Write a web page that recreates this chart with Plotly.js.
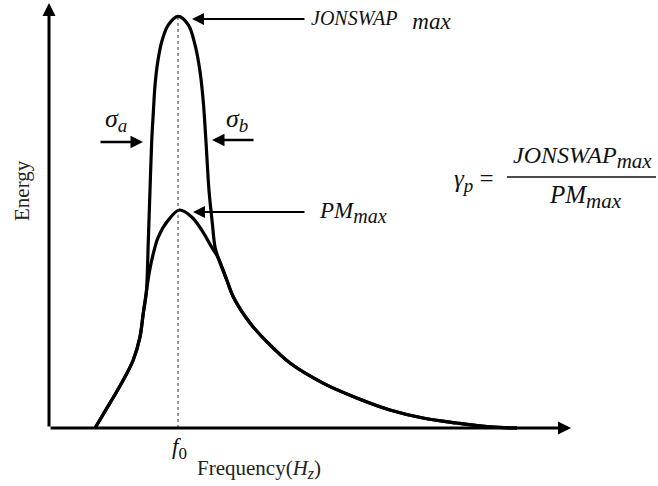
<!DOCTYPE html>
<html>
<head>
<meta charset="utf-8">
<script src="https://cdn.plot.ly/plotly-3.0.1.min.js"></script>
<style>
  html, body { margin: 0; padding: 0; background: #ffffff; }
  #chart { width: 658px; height: 486px; }
</style>
</head>
<body>
<div id="chart"></div>
<script>
// Normalised frequency (f / f0) and energy (E / PM peak)
const peakFrequency = 1.0;

const freqPM = [0.357, 0.473, 0.576, 0.653, 0.705, 0.731, 0.757, 0.778, 0.802, 0.847, 0.925, 1.012,
                1.106, 1.184, 1.261, 1.312, 1.378, 1.429, 1.558, 1.713, 1.868, 2.124, 2.385, 2.643,
                2.899, 3.160, 3.419, 3.628];
const energyPM = [0, 0.115, 0.220, 0.312, 0.417, 0.528, 0.633, 0.716, 0.784, 0.876, 0.954, 1.000,
                  0.968, 0.908, 0.830, 0.780, 0.679, 0.601, 0.482, 0.381, 0.298, 0.206, 0.138, 0.083,
                  0.046, 0.023, 0.005, 0];

const freqJONSWAP = [0.357, 0.473, 0.576, 0.653, 0.705, 0.731, 0.754, 0.770, 0.783, 0.796, 0.809, 0.822,
                     0.843, 0.874, 0.925, 1.002, 1.080, 1.132, 1.171, 1.196, 1.217, 1.240, 1.266, 1.287,
                     1.312, 1.378, 1.429, 1.558, 1.713, 1.868, 2.124, 2.385, 2.643, 2.899, 3.160, 3.419, 3.628];
const energyJONSWAP = [0, 0.115, 0.220, 0.312, 0.417, 0.528, 0.619, 0.862, 1.092, 1.313, 1.451, 1.573,
                       1.680, 1.772, 1.849, 1.888, 1.849, 1.757, 1.634, 1.497, 1.313, 1.092, 0.940, 0.830,
                       0.780, 0.679, 0.601, 0.482, 0.381, 0.298, 0.206, 0.138, 0.083, 0.046, 0.023, 0.005, 0];

// Axis extents (normalised units)
const xEnd = 4.047;
const yEnd = 1.95;

const W = 658, H = 486;
// pixel position -> paper fraction
const px = v => v / W;
const py = v => 1 - v / H;

const serif = 'Liberation Serif, Times New Roman, serif';
const ink = '#111111';

const curveLine = { color: '#000000', width: 3.2, shape: 'spline', smoothing: 1 };

const traces = [
  { x: freqPM, y: energyPM, mode: 'lines', line: curveLine, cliponaxis: false, hoverinfo: 'skip', name: 'PM' },
  { x: freqJONSWAP, y: energyJONSWAP, mode: 'lines', line: curveLine, cliponaxis: false, hoverinfo: 'skip', name: 'JONSWAP' }
];

const jPeak = Math.max(...energyJONSWAP);

// subscript with its own size
const sub = (t, size) => '<sub><span style="font-size:' + size + 'px">' + t + '</span></sub>';

function label(x, y, text, size, opts) {
  return Object.assign({
    xref: 'paper', yref: 'paper', x: px(x), y: py(y), text: text, showarrow: false,
    xanchor: 'center', yanchor: 'middle',
    font: { family: serif, size: size, color: ink }
  }, opts || {});
}

function pointer(x, y, ax, width, size) {
  return {
    xref: 'paper', yref: 'paper', x: px(x), y: py(y), ax: ax, ay: 0, text: '',
    showarrow: true, arrowhead: 2, arrowwidth: width, arrowsize: size, arrowcolor: '#000000', standoff: 0
  };
}

const annotations = [
  // axes with arrowheads
  { xref: 'x', yref: 'y', x: xEnd, y: 0, ax: -522, ay: 0, text: '', showarrow: true,
    arrowhead: 2, arrowwidth: 3, arrowsize: 0.87, arrowcolor: '#000000', standoff: 0 },
  { xref: 'x', yref: 'y', x: 0, y: yEnd, ax: 0, ay: 425, text: '', showarrow: true,
    arrowhead: 2, arrowwidth: 3, arrowsize: 0.87, arrowcolor: '#000000', standoff: 0 },

  // peak pointers
  pointer(192, 19, 114, 2, 1.2),
  pointer(193, 212, 113, 2, 1.2),
  // bandwidth arrows
  pointer(143, 142, -44, 2.5, 1.0),
  pointer(212, 140, 43, 2.5, 1.0),

  label(309, 20, '<i>JONSWAP</i>&nbsp;&nbsp;&nbsp;' + sub('<i>max</i>', 23), 20, { xanchor: 'left' }),
  label(317, 213, '<i>PM</i>' + sub('<i>max</i>', 20), 23, { xanchor: 'left' }),
  label(116, 120, '<i>σ</i>' + sub('<i>a</i>', 19), 26),
  label(237, 120, '<i>σ</i>' + sub('<i>b</i>', 19), 26),

  // peak enhancement factor
  label(452, 180, '<i>γ</i>' + sub('<i>p</i>', 19) + ' =', 25, { xanchor: 'left' }),
  label(582, 158, '<i>JONSWAP</i>' + sub('<i>max</i>', 21), 24),
  label(585, 197, '<i>PM</i>' + sub('<i>max</i>', 21), 25),

  // axis titles
  label(22, 191, 'Energy', 21, { textangle: -90, font: { family: serif, size: 21, color: '#222222' } }),
  label(179, 448, '<i>f</i>' + sub('0', 17), 23),
  label(259, 469, 'Frequency(<i>H</i>' + sub('<i>z</i>', 16) + ')', 21, { font: { family: serif, size: 21, color: '#222222' } })
];

const shapes = [
  // f0 marker
  { type: 'line', xref: 'x', yref: 'y', x0: peakFrequency, x1: peakFrequency, y0: 0, y1: jPeak,
    line: { color: '#333333', width: 1, dash: 'dot' } },
  // fraction bar
  { type: 'line', xref: 'paper', yref: 'paper', x0: px(507), x1: px(656), y0: py(177), y1: py(177),
    line: { color: ink, width: 1.3 } }
];

const layout = {
  width: W, height: H,
  margin: { l: 0, r: 0, t: 0, b: 0 },
  paper_bgcolor: '#ffffff', plot_bgcolor: '#ffffff',
  showlegend: false,
  xaxis: { range: [-49 / 129, 609 / 129], visible: false, fixedrange: true },
  yaxis: { range: [-58 / 218, 428 / 218], visible: false, fixedrange: true },
  annotations: annotations,
  shapes: shapes
};

Plotly.newPlot('chart', traces, layout, { staticPlot: true, displayModeBar: false });
</script>
</body>
</html>
